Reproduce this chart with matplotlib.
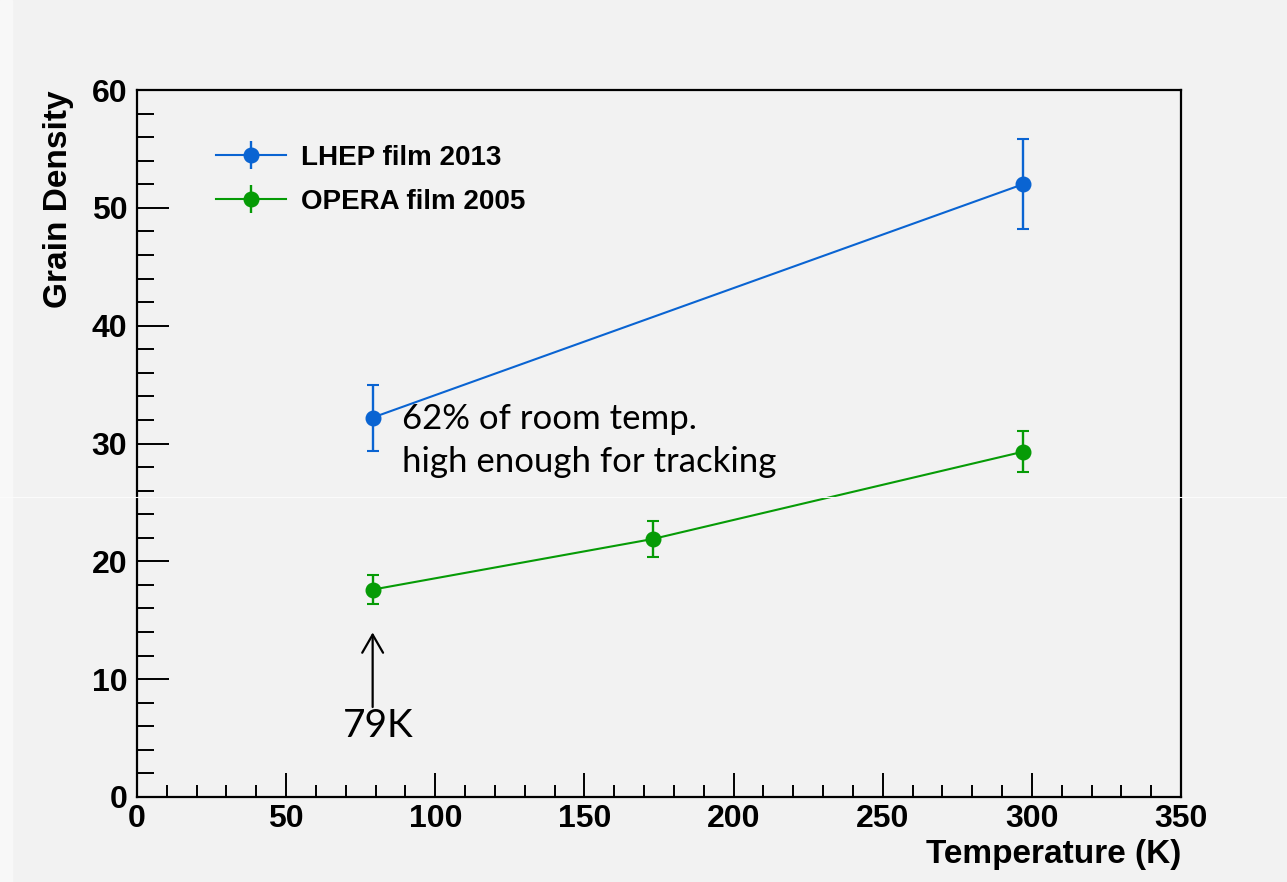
import numpy as np
import matplotlib.pyplot as plt
from matplotlib.lines import Line2D
from matplotlib.collections import LineCollection
from matplotlib.container import ErrorbarContainer
from matplotlib.ticker import MultipleLocator

# grain density vs temperature, two emulsion films
lhep_temp = [79, 297]
lhep_density = [32.2, 52.0]
lhep_err = [2.8, 3.8]

opera_temp = [79, 173, 297]
opera_density = [17.6, 21.9, 29.3]
opera_err = [1.25, 1.5, 1.75]

series_labels = ["LHEP film 2013", "OPERA film 2005"]
note_lines = ["62% of room temp.", "high enough for tracking"]
arrow_label = "79K"

BLUE = "#0a64d2"
GREEN = "#069b06"
BG = "#f2f2f2"

plt.rcParams["font.family"] = ["Liberation Sans", "DejaVu Sans"]

fig = plt.figure(figsize=(12.87, 8.82), dpi=100, facecolor=BG)
# lighter strip at the left edge and a faint seam across the canvas
fig.patches.append(plt.Rectangle((0, 0), 12 / 1287, 1, transform=fig.transFigure,
                                 color="#f8f8f8", zorder=-1))
fig.add_artist(Line2D([0, 1], [1 - 497 / 882] * 2, transform=fig.transFigure,
                      color="#fbfbfb", lw=0.8, zorder=0.5))
ax = fig.add_axes([137 / 1287, 85 / 882, 1044 / 1287, 707 / 882])
ax.set_facecolor(BG)
ax.patch.set_alpha(0)

handles = []
for xs, ys, es, col, lab in [(lhep_temp, lhep_density, lhep_err, BLUE, series_labels[0]),
                             (opera_temp, opera_density, opera_err, GREEN, series_labels[1])]:
    ax.errorbar(xs, ys, yerr=es, color=col, lw=1.5, marker="o", ms=10.5,
                capsize=4.5, capthick=1.5, elinewidth=1.7)
    # legend proxy: marker with a vertical bar, no caps
    ln = Line2D([], [], color=col, lw=1.5, marker="o", ms=10.5)
    bar = LineCollection([], colors=col, linewidths=1.7)
    handles.append(ErrorbarContainer((ln, (), (bar,)), has_xerr=False,
                                     has_yerr=True, label=lab))

leg = ax.legend(handles=handles, loc="upper left", bbox_to_anchor=(0.052, 0.958),
                frameon=False, fontsize=20, handlelength=2.5, handletextpad=0.55,
                labelspacing=0.65)
for t in leg.get_texts():
    t.set_fontweight("bold")

ax.set_xlim(0, 350)
ax.set_ylim(0, 60)
ax.xaxis.set_major_locator(MultipleLocator(50))
ax.xaxis.set_minor_locator(MultipleLocator(10))
ax.yaxis.set_major_locator(MultipleLocator(10))
ax.yaxis.set_minor_locator(MultipleLocator(2))
ax.tick_params(which="both", direction="in", width=1.4, labelsize=23)
ax.tick_params(axis="y", which="major", length=23, pad=7)
ax.tick_params(axis="y", which="minor", length=12)
ax.tick_params(axis="x", which="major", length=17, pad=5)
ax.tick_params(axis="x", which="minor", length=9)
for lbl in ax.get_xticklabels() + ax.get_yticklabels():
    lbl.set_fontweight("bold")
for s in ax.spines.values():
    s.set_linewidth(1.6)

ax.set_xlabel("Temperature (K)", loc="right", fontsize=24, fontweight="bold", labelpad=4)
ax.set_ylabel("Grain Density", loc="top", fontsize=24, fontweight="bold", labelpad=13)

# annotation text next to the low temperature point
for i, line in enumerate(note_lines):
    ax.text(89, 31.2 - i * 3.65, line, family=["Lato", "DejaVu Sans"], fontsize=25,
            va="baseline", ha="left")

ax.annotate("", xy=(79, 14.2), xytext=(79, 7.4),
            arrowprops=dict(arrowstyle="->,head_length=1.3,head_width=0.75",
                            color="black", lw=1.6))
ax.text(69, 5.1, arrow_label, family=["Lato", "DejaVu Sans"], fontsize=28,
        va="baseline", ha="left")

fig.savefig("out.png", dpi=100, facecolor=BG)
